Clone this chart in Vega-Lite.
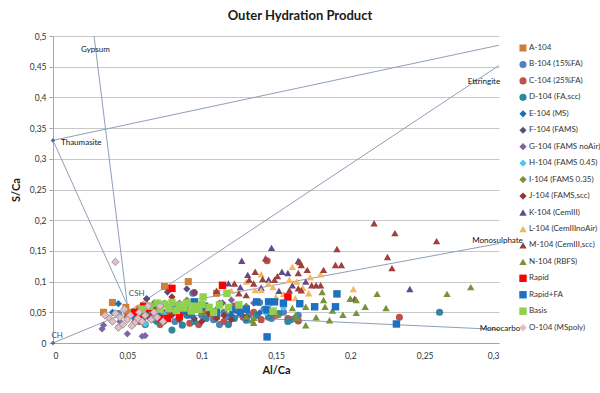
{
  "$schema": "https://vega.github.io/schema/vega-lite/v6.json",
  "width": 446,
  "height": 307,
  "autosize": {"type": "none"},
  "padding": {"left": 53, "top": 36, "right": 101, "bottom": 50},
  "background": "white",
  "title": {"text": "Outer Hydration Product", "anchor": "middle", "dx": 24, "offset": 9, "fontSize": 13, "font": "Lato", "fontWeight": "bold", "color": "#1a1a1a"},
  "config": {
    "view": {"stroke": null},
    "font": "Lato",
    "axis": {"labelFont": "Lato", "titleFont": "Lato", "labelColor": "#333333", "titleColor": "#1a1a1a", "labelFontSize": 8.5, "titleFontSize": 11, "titleFontWeight": "bold", "domainColor": "#A6A6A6", "gridColor": "#C8C8C8", "labelOverlap": false},
    "legend": {"labelFont": "Lato", "labelFontSize": 8, "labelColor": "#333333", "symbolSize": 30, "rowPadding": 8.45, "labelOffset": 2, "padding": 0, "symbolStrokeWidth": 0}
  },
  "encoding": {
    "x": {"field": "x", "type": "quantitative", "scale": {"domain": [0, 0.3], "nice": false}, "axis": {"values": [0, 0.05, 0.1, 0.15, 0.2, 0.25, 0.3], "tickCount": 20, "grid": false, "ticks": false, "title": "Al/Ca", "labelPadding": 8, "titlePadding": 5, "labelExpr": "replace(format(datum.value, '.2~f'), '.', ',')"}},
    "y": {"field": "y", "type": "quantitative", "scale": {"domain": [0, 0.5], "nice": false}, "axis": {"values": [0, 0.05, 0.1, 0.15, 0.2, 0.25, 0.3, 0.35, 0.4, 0.45, 0.5], "tickCount": 20, "grid": true, "ticks": true, "tickSize": 4, "tickColor": "#A6A6A6", "title": "S/Ca", "labelPadding": 3, "titlePadding": 8, "labelExpr": "replace(format(datum.value, '.2~f'), '.', ',')"}}
  },
  "datasets": {
    "lines": [
      {"l": "gyp", "x": 0.0276, "y": 0.5}, {"l": "gyp", "x": 0.05, "y": 0.062},
      {"l": "thcsh", "x": 0, "y": 0.33}, {"l": "thcsh", "x": 0.05, "y": 0.062},
      {"l": "thett", "x": 0, "y": 0.33}, {"l": "thett", "x": 0.3, "y": 0.485},
      {"l": "chcsh", "x": 0, "y": 0}, {"l": "chcsh", "x": 0.05, "y": 0.05},
      {"l": "ett", "x": 0.05, "y": 0.05}, {"l": "ett", "x": 0.3, "y": 0.452},
      {"l": "mono", "x": 0.05, "y": 0.05}, {"l": "mono", "x": 0.3, "y": 0.162},
      {"l": "carb", "x": 0.05, "y": 0.05}, {"l": "carb", "x": 0.3, "y": 0.022}
    ],
    "refpts": [{"x": 0, "y": 0.33}, {"x": 0, "y": 0}],
    "labels": [
      {"t": "Gypsum", "x": 0.0188, "y": 0.477, "g": "a"},
      {"t": "Thaumasite", "x": 0.0054, "y": 0.326, "g": "a"},
      {"t": "Ettringite", "x": 0.279, "y": 0.425, "g": "a"},
      {"t": "Monosulphate", "x": 0.282, "y": 0.166, "g": "a"},
      {"t": "Monocarbo", "x": 0.287, "y": 0.023, "g": "a"},
      {"t": "CSH", "x": 0.051, "y": 0.08, "g": "b"},
      {"t": "CH", "x": -0.001, "y": 0.011, "g": "b"}
    ],
    "pts": [
      {"s": "A-104", "x": 0.034, "y": 0.05}, {"s": "A-104", "x": 0.04, "y": 0.066}, {"s": "A-104", "x": 0.049, "y": 0.058}, {"s": "A-104", "x": 0.05, "y": 0.05}, {"s": "A-104", "x": 0.075, "y": 0.092}, {"s": "A-104", "x": 0.091, "y": 0.1}, {"s": "A-104", "x": 0.11, "y": 0.081}, {"s": "A-104", "x": 0.058, "y": 0.055}, {"s": "A-104", "x": 0.053, "y": 0.045},
      {"s": "B-104 (15%FA)", "x": 0.044, "y": 0.048}, {"s": "B-104 (15%FA)", "x": 0.06, "y": 0.045}, {"s": "B-104 (15%FA)", "x": 0.068, "y": 0.038}, {"s": "B-104 (15%FA)", "x": 0.075, "y": 0.045}, {"s": "B-104 (15%FA)", "x": 0.082, "y": 0.035}, {"s": "B-104 (15%FA)", "x": 0.088, "y": 0.05}, {"s": "B-104 (15%FA)", "x": 0.094, "y": 0.081}, {"s": "B-104 (15%FA)", "x": 0.1, "y": 0.045}, {"s": "B-104 (15%FA)", "x": 0.108, "y": 0.038}, {"s": "B-104 (15%FA)", "x": 0.115, "y": 0.05}, {"s": "B-104 (15%FA)", "x": 0.121, "y": 0.056}, {"s": "B-104 (15%FA)", "x": 0.126, "y": 0.054}, {"s": "B-104 (15%FA)", "x": 0.132, "y": 0.046}, {"s": "B-104 (15%FA)", "x": 0.139, "y": 0.066}, {"s": "B-104 (15%FA)", "x": 0.147, "y": 0.04}, {"s": "B-104 (15%FA)", "x": 0.155, "y": 0.05}, {"s": "B-104 (15%FA)", "x": 0.16, "y": 0.038}, {"s": "B-104 (15%FA)", "x": 0.165, "y": 0.045}, {"s": "B-104 (15%FA)", "x": 0.112, "y": 0.03}, {"s": "B-104 (15%FA)", "x": 0.07, "y": 0.055}, {"s": "B-104 (15%FA)", "x": 0.118, "y": 0.043}, {"s": "B-104 (15%FA)", "x": 0.142, "y": 0.055},
      {"s": "C-104 (25%FA)", "x": 0.05, "y": 0.042}, {"s": "C-104 (25%FA)", "x": 0.058, "y": 0.035}, {"s": "C-104 (25%FA)", "x": 0.065, "y": 0.048}, {"s": "C-104 (25%FA)", "x": 0.072, "y": 0.03}, {"s": "C-104 (25%FA)", "x": 0.078, "y": 0.05}, {"s": "C-104 (25%FA)", "x": 0.085, "y": 0.04}, {"s": "C-104 (25%FA)", "x": 0.092, "y": 0.032}, {"s": "C-104 (25%FA)", "x": 0.095, "y": 0.082}, {"s": "C-104 (25%FA)", "x": 0.102, "y": 0.052}, {"s": "C-104 (25%FA)", "x": 0.108, "y": 0.045}, {"s": "C-104 (25%FA)", "x": 0.115, "y": 0.035}, {"s": "C-104 (25%FA)", "x": 0.122, "y": 0.06}, {"s": "C-104 (25%FA)", "x": 0.128, "y": 0.042}, {"s": "C-104 (25%FA)", "x": 0.135, "y": 0.05}, {"s": "C-104 (25%FA)", "x": 0.144, "y": 0.134}, {"s": "C-104 (25%FA)", "x": 0.15, "y": 0.045}, {"s": "C-104 (25%FA)", "x": 0.158, "y": 0.04}, {"s": "C-104 (25%FA)", "x": 0.165, "y": 0.036}, {"s": "C-104 (25%FA)", "x": 0.233, "y": 0.042}, {"s": "C-104 (25%FA)", "x": 0.098, "y": 0.03}, {"s": "C-104 (25%FA)", "x": 0.14, "y": 0.038},
      {"s": "D-104 (FA,scc)", "x": 0.062, "y": 0.03}, {"s": "D-104 (FA,scc)", "x": 0.07, "y": 0.035}, {"s": "D-104 (FA,scc)", "x": 0.08, "y": 0.021}, {"s": "D-104 (FA,scc)", "x": 0.087, "y": 0.029}, {"s": "D-104 (FA,scc)", "x": 0.095, "y": 0.035}, {"s": "D-104 (FA,scc)", "x": 0.103, "y": 0.04}, {"s": "D-104 (FA,scc)", "x": 0.11, "y": 0.042}, {"s": "D-104 (FA,scc)", "x": 0.118, "y": 0.03}, {"s": "D-104 (FA,scc)", "x": 0.122, "y": 0.04}, {"s": "D-104 (FA,scc)", "x": 0.13, "y": 0.037}, {"s": "D-104 (FA,scc)", "x": 0.137, "y": 0.045}, {"s": "D-104 (FA,scc)", "x": 0.145, "y": 0.042}, {"s": "D-104 (FA,scc)", "x": 0.152, "y": 0.048}, {"s": "D-104 (FA,scc)", "x": 0.158, "y": 0.035}, {"s": "D-104 (FA,scc)", "x": 0.163, "y": 0.04}, {"s": "D-104 (FA,scc)", "x": 0.26, "y": 0.05}, {"s": "D-104 (FA,scc)", "x": 0.09, "y": 0.045}, {"s": "D-104 (FA,scc)", "x": 0.075, "y": 0.04},
      {"s": "E-104 (MS)", "x": 0.044, "y": 0.064}, {"s": "E-104 (MS)", "x": 0.04, "y": 0.05}, {"s": "E-104 (MS)", "x": 0.055, "y": 0.04}, {"s": "E-104 (MS)", "x": 0.063, "y": 0.072}, {"s": "E-104 (MS)", "x": 0.07, "y": 0.06}, {"s": "E-104 (MS)", "x": 0.085, "y": 0.055}, {"s": "E-104 (MS)", "x": 0.1, "y": 0.06}, {"s": "E-104 (MS)", "x": 0.12, "y": 0.045}, {"s": "E-104 (MS)", "x": 0.139, "y": 0.049}, {"s": "E-104 (MS)", "x": 0.13, "y": 0.04}, {"s": "E-104 (MS)", "x": 0.062, "y": 0.05},
      {"s": "F-104 (FAMS)", "x": 0.063, "y": 0.072}, {"s": "F-104 (FAMS)", "x": 0.077, "y": 0.083}, {"s": "F-104 (FAMS)", "x": 0.09, "y": 0.088}, {"s": "F-104 (FAMS)", "x": 0.095, "y": 0.082}, {"s": "F-104 (FAMS)", "x": 0.114, "y": 0.065}, {"s": "F-104 (FAMS)", "x": 0.08, "y": 0.06}, {"s": "F-104 (FAMS)", "x": 0.07, "y": 0.05}, {"s": "F-104 (FAMS)", "x": 0.105, "y": 0.055}, {"s": "F-104 (FAMS)", "x": 0.055, "y": 0.035}, {"s": "F-104 (FAMS)", "x": 0.065, "y": 0.04},
      {"s": "G-104 (FAMS noAir)", "x": 0.033, "y": 0.023}, {"s": "G-104 (FAMS noAir)", "x": 0.034, "y": 0.029}, {"s": "G-104 (FAMS noAir)", "x": 0.05, "y": 0.015}, {"s": "G-104 (FAMS noAir)", "x": 0.06, "y": 0.011}, {"s": "G-104 (FAMS noAir)", "x": 0.062, "y": 0.012}, {"s": "G-104 (FAMS noAir)", "x": 0.045, "y": 0.035}, {"s": "G-104 (FAMS noAir)", "x": 0.075, "y": 0.05}, {"s": "G-104 (FAMS noAir)", "x": 0.085, "y": 0.065}, {"s": "G-104 (FAMS noAir)", "x": 0.12, "y": 0.07}, {"s": "G-104 (FAMS noAir)", "x": 0.112, "y": 0.065}, {"s": "G-104 (FAMS noAir)", "x": 0.135, "y": 0.065},
      {"s": "H-104 (FAMS 0.45)", "x": 0.044, "y": 0.027}, {"s": "H-104 (FAMS 0.45)", "x": 0.062, "y": 0.031}, {"s": "H-104 (FAMS 0.45)", "x": 0.05, "y": 0.04}, {"s": "H-104 (FAMS 0.45)", "x": 0.075, "y": 0.045}, {"s": "H-104 (FAMS 0.45)", "x": 0.098, "y": 0.055}, {"s": "H-104 (FAMS 0.45)", "x": 0.125, "y": 0.05}, {"s": "H-104 (FAMS 0.45)", "x": 0.143, "y": 0.049}, {"s": "H-104 (FAMS 0.45)", "x": 0.155, "y": 0.058},
      {"s": "I-104 (FAMS 0.35)", "x": 0.06, "y": 0.05}, {"s": "I-104 (FAMS 0.35)", "x": 0.07, "y": 0.045}, {"s": "I-104 (FAMS 0.35)", "x": 0.08, "y": 0.055}, {"s": "I-104 (FAMS 0.35)", "x": 0.09, "y": 0.06}, {"s": "I-104 (FAMS 0.35)", "x": 0.1, "y": 0.05}, {"s": "I-104 (FAMS 0.35)", "x": 0.11, "y": 0.055}, {"s": "I-104 (FAMS 0.35)", "x": 0.12, "y": 0.058}, {"s": "I-104 (FAMS 0.35)", "x": 0.13, "y": 0.06}, {"s": "I-104 (FAMS 0.35)", "x": 0.075, "y": 0.065}, {"s": "I-104 (FAMS 0.35)", "x": 0.09, "y": 0.07},
      {"s": "J-104 (FAMS,scc)", "x": 0.055, "y": 0.05}, {"s": "J-104 (FAMS,scc)", "x": 0.06, "y": 0.045}, {"s": "J-104 (FAMS,scc)", "x": 0.065, "y": 0.04}, {"s": "J-104 (FAMS,scc)", "x": 0.07, "y": 0.048}, {"s": "J-104 (FAMS,scc)", "x": 0.075, "y": 0.035}, {"s": "J-104 (FAMS,scc)", "x": 0.08, "y": 0.045}, {"s": "J-104 (FAMS,scc)", "x": 0.085, "y": 0.038}, {"s": "J-104 (FAMS,scc)", "x": 0.09, "y": 0.05}, {"s": "J-104 (FAMS,scc)", "x": 0.095, "y": 0.04}, {"s": "J-104 (FAMS,scc)", "x": 0.1, "y": 0.035}, {"s": "J-104 (FAMS,scc)", "x": 0.105, "y": 0.048}, {"s": "J-104 (FAMS,scc)", "x": 0.11, "y": 0.04}, {"s": "J-104 (FAMS,scc)", "x": 0.115, "y": 0.045}, {"s": "J-104 (FAMS,scc)", "x": 0.12, "y": 0.038}, {"s": "J-104 (FAMS,scc)", "x": 0.125, "y": 0.05}, {"s": "J-104 (FAMS,scc)", "x": 0.13, "y": 0.043}, {"s": "J-104 (FAMS,scc)", "x": 0.08, "y": 0.075}, {"s": "J-104 (FAMS,scc)", "x": 0.068, "y": 0.065},
      {"s": "K-104 (CemIII)", "x": 0.147, "y": 0.155}, {"s": "K-104 (CemIII)", "x": 0.165, "y": 0.134}, {"s": "K-104 (CemIII)", "x": 0.127, "y": 0.134}, {"s": "K-104 (CemIII)", "x": 0.154, "y": 0.116}, {"s": "K-104 (CemIII)", "x": 0.158, "y": 0.114}, {"s": "K-104 (CemIII)", "x": 0.145, "y": 0.103}, {"s": "K-104 (CemIII)", "x": 0.161, "y": 0.094}, {"s": "K-104 (CemIII)", "x": 0.131, "y": 0.111}, {"s": "K-104 (CemIII)", "x": 0.118, "y": 0.097}, {"s": "K-104 (CemIII)", "x": 0.126, "y": 0.091}, {"s": "K-104 (CemIII)", "x": 0.24, "y": 0.088}, {"s": "K-104 (CemIII)", "x": 0.17, "y": 0.1}, {"s": "K-104 (CemIII)", "x": 0.14, "y": 0.09}, {"s": "K-104 (CemIII)", "x": 0.152, "y": 0.085}, {"s": "K-104 (CemIII)", "x": 0.1, "y": 0.065},
      {"s": "L-104 (CemIIInoAir)", "x": 0.14, "y": 0.112}, {"s": "L-104 (CemIIInoAir)", "x": 0.161, "y": 0.124}, {"s": "L-104 (CemIIInoAir)", "x": 0.18, "y": 0.112}, {"s": "L-104 (CemIIInoAir)", "x": 0.173, "y": 0.107}, {"s": "L-104 (CemIIInoAir)", "x": 0.159, "y": 0.103}, {"s": "L-104 (CemIIInoAir)", "x": 0.164, "y": 0.1}, {"s": "L-104 (CemIIInoAir)", "x": 0.136, "y": 0.086}, {"s": "L-104 (CemIIInoAir)", "x": 0.14, "y": 0.086}, {"s": "L-104 (CemIIInoAir)", "x": 0.148, "y": 0.091}, {"s": "L-104 (CemIIInoAir)", "x": 0.172, "y": 0.081}, {"s": "L-104 (CemIIInoAir)", "x": 0.163, "y": 0.073}, {"s": "L-104 (CemIIInoAir)", "x": 0.202, "y": 0.088}, {"s": "L-104 (CemIIInoAir)", "x": 0.15, "y": 0.075}, {"s": "L-104 (CemIIInoAir)", "x": 0.145, "y": 0.097}, {"s": "L-104 (CemIIInoAir)", "x": 0.155, "y": 0.08}, {"s": "L-104 (CemIIInoAir)", "x": 0.13, "y": 0.1}, {"s": "L-104 (CemIIInoAir)", "x": 0.12, "y": 0.085}, {"s": "L-104 (CemIIInoAir)", "x": 0.168, "y": 0.09},
      {"s": "M-104 (CemIII,scc)", "x": 0.216, "y": 0.195}, {"s": "M-104 (CemIII,scc)", "x": 0.23, "y": 0.179}, {"s": "M-104 (CemIII,scc)", "x": 0.258, "y": 0.166}, {"s": "M-104 (CemIII,scc)", "x": 0.225, "y": 0.14}, {"s": "M-104 (CemIII,scc)", "x": 0.228, "y": 0.122}, {"s": "M-104 (CemIII,scc)", "x": 0.191, "y": 0.153}, {"s": "M-104 (CemIII,scc)", "x": 0.19, "y": 0.127}, {"s": "M-104 (CemIII,scc)", "x": 0.194, "y": 0.127}, {"s": "M-104 (CemIII,scc)", "x": 0.143, "y": 0.138}, {"s": "M-104 (CemIII,scc)", "x": 0.166, "y": 0.132}, {"s": "M-104 (CemIII,scc)", "x": 0.167, "y": 0.127}, {"s": "M-104 (CemIII,scc)", "x": 0.171, "y": 0.119}, {"s": "M-104 (CemIII,scc)", "x": 0.165, "y": 0.114}, {"s": "M-104 (CemIII,scc)", "x": 0.182, "y": 0.119}, {"s": "M-104 (CemIII,scc)", "x": 0.136, "y": 0.116}, {"s": "M-104 (CemIII,scc)", "x": 0.151, "y": 0.109}, {"s": "M-104 (CemIII,scc)", "x": 0.149, "y": 0.103}, {"s": "M-104 (CemIII,scc)", "x": 0.174, "y": 0.094}, {"s": "M-104 (CemIII,scc)", "x": 0.177, "y": 0.094}, {"s": "M-104 (CemIII,scc)", "x": 0.18, "y": 0.094}, {"s": "M-104 (CemIII,scc)", "x": 0.165, "y": 0.089}, {"s": "M-104 (CemIII,scc)", "x": 0.167, "y": 0.086}, {"s": "M-104 (CemIII,scc)", "x": 0.2, "y": 0.072}, {"s": "M-104 (CemIII,scc)", "x": 0.203, "y": 0.072}, {"s": "M-104 (CemIII,scc)", "x": 0.159, "y": 0.086}, {"s": "M-104 (CemIII,scc)", "x": 0.122, "y": 0.097}, {"s": "M-104 (CemIII,scc)", "x": 0.132, "y": 0.103}, {"s": "M-104 (CemIII,scc)", "x": 0.135, "y": 0.097}, {"s": "M-104 (CemIII,scc)", "x": 0.141, "y": 0.104}, {"s": "M-104 (CemIII,scc)", "x": 0.125, "y": 0.081}, {"s": "M-104 (CemIII,scc)", "x": 0.13, "y": 0.078}, {"s": "M-104 (CemIII,scc)", "x": 0.11, "y": 0.085},
      {"s": "N-104 (RBFS)", "x": 0.281, "y": 0.091}, {"s": "N-104 (RBFS)", "x": 0.265, "y": 0.08}, {"s": "N-104 (RBFS)", "x": 0.224, "y": 0.057}, {"s": "N-104 (RBFS)", "x": 0.181, "y": 0.083}, {"s": "N-104 (RBFS)", "x": 0.182, "y": 0.07}, {"s": "N-104 (RBFS)", "x": 0.183, "y": 0.059}, {"s": "N-104 (RBFS)", "x": 0.188, "y": 0.053}, {"s": "N-104 (RBFS)", "x": 0.2, "y": 0.072}, {"s": "N-104 (RBFS)", "x": 0.204, "y": 0.07}, {"s": "N-104 (RBFS)", "x": 0.218, "y": 0.08}, {"s": "N-104 (RBFS)", "x": 0.21, "y": 0.059}, {"s": "N-104 (RBFS)", "x": 0.204, "y": 0.049}, {"s": "N-104 (RBFS)", "x": 0.195, "y": 0.046}, {"s": "N-104 (RBFS)", "x": 0.186, "y": 0.037}, {"s": "N-104 (RBFS)", "x": 0.177, "y": 0.042}, {"s": "N-104 (RBFS)", "x": 0.17, "y": 0.029}, {"s": "N-104 (RBFS)", "x": 0.17, "y": 0.059}, {"s": "N-104 (RBFS)", "x": 0.164, "y": 0.041}, {"s": "N-104 (RBFS)", "x": 0.161, "y": 0.057}, {"s": "N-104 (RBFS)", "x": 0.151, "y": 0.046}, {"s": "N-104 (RBFS)", "x": 0.135, "y": 0.041}, {"s": "N-104 (RBFS)", "x": 0.135, "y": 0.033}, {"s": "N-104 (RBFS)", "x": 0.13, "y": 0.043}, {"s": "N-104 (RBFS)", "x": 0.134, "y": 0.037}, {"s": "N-104 (RBFS)", "x": 0.163, "y": 0.045},
      {"s": "Rapid", "x": 0.061, "y": 0.06}, {"s": "Rapid", "x": 0.065, "y": 0.057}, {"s": "Rapid", "x": 0.068, "y": 0.052}, {"s": "Rapid", "x": 0.08, "y": 0.089}, {"s": "Rapid", "x": 0.077, "y": 0.04}, {"s": "Rapid", "x": 0.072, "y": 0.04}, {"s": "Rapid", "x": 0.114, "y": 0.094}, {"s": "Rapid", "x": 0.158, "y": 0.075}, {"s": "Rapid", "x": 0.055, "y": 0.05}, {"s": "Rapid", "x": 0.085, "y": 0.045}, {"s": "Rapid", "x": 0.06, "y": 0.042},
      {"s": "Rapid+FA", "x": 0.144, "y": 0.01}, {"s": "Rapid+FA", "x": 0.191, "y": 0.08}, {"s": "Rapid+FA", "x": 0.19, "y": 0.059}, {"s": "Rapid+FA", "x": 0.231, "y": 0.031}, {"s": "Rapid+FA", "x": 0.176, "y": 0.059}, {"s": "Rapid+FA", "x": 0.166, "y": 0.064}, {"s": "Rapid+FA", "x": 0.155, "y": 0.065}, {"s": "Rapid+FA", "x": 0.149, "y": 0.067}, {"s": "Rapid+FA", "x": 0.145, "y": 0.067}, {"s": "Rapid+FA", "x": 0.144, "y": 0.054}, {"s": "Rapid+FA", "x": 0.137, "y": 0.067}, {"s": "Rapid+FA", "x": 0.095, "y": 0.067}, {"s": "Rapid+FA", "x": 0.089, "y": 0.054}, {"s": "Rapid+FA", "x": 0.093, "y": 0.046}, {"s": "Rapid+FA", "x": 0.121, "y": 0.054}, {"s": "Rapid+FA", "x": 0.126, "y": 0.049}, {"s": "Rapid+FA", "x": 0.082, "y": 0.059}, {"s": "Rapid+FA", "x": 0.11, "y": 0.05}, {"s": "Rapid+FA", "x": 0.07, "y": 0.05}, {"s": "Rapid+FA", "x": 0.102, "y": 0.06}, {"s": "Rapid+FA", "x": 0.13, "y": 0.055},
      {"s": "Basis", "x": 0.101, "y": 0.075}, {"s": "Basis", "x": 0.117, "y": 0.081}, {"s": "Basis", "x": 0.148, "y": 0.052}, {"s": "Basis", "x": 0.07, "y": 0.065}, {"s": "Basis", "x": 0.075, "y": 0.063}, {"s": "Basis", "x": 0.08, "y": 0.066}, {"s": "Basis", "x": 0.085, "y": 0.062}, {"s": "Basis", "x": 0.09, "y": 0.065}, {"s": "Basis", "x": 0.095, "y": 0.06}, {"s": "Basis", "x": 0.1, "y": 0.063}, {"s": "Basis", "x": 0.105, "y": 0.058}, {"s": "Basis", "x": 0.072, "y": 0.055}, {"s": "Basis", "x": 0.078, "y": 0.056}, {"s": "Basis", "x": 0.083, "y": 0.053}, {"s": "Basis", "x": 0.088, "y": 0.057}, {"s": "Basis", "x": 0.093, "y": 0.052}, {"s": "Basis", "x": 0.098, "y": 0.055}, {"s": "Basis", "x": 0.108, "y": 0.05}, {"s": "Basis", "x": 0.112, "y": 0.062}, {"s": "Basis", "x": 0.065, "y": 0.06}, {"s": "Basis", "x": 0.06, "y": 0.055}, {"s": "Basis", "x": 0.118, "y": 0.058}, {"s": "Basis", "x": 0.125, "y": 0.062},
      {"s": "O-104 (MSpoly)", "x": 0.042, "y": 0.132}, {"s": "O-104 (MSpoly)", "x": 0.035, "y": 0.045}, {"s": "O-104 (MSpoly)", "x": 0.038, "y": 0.04}, {"s": "O-104 (MSpoly)", "x": 0.04, "y": 0.035}, {"s": "O-104 (MSpoly)", "x": 0.042, "y": 0.048}, {"s": "O-104 (MSpoly)", "x": 0.045, "y": 0.042}, {"s": "O-104 (MSpoly)", "x": 0.047, "y": 0.03}, {"s": "O-104 (MSpoly)", "x": 0.05, "y": 0.038}, {"s": "O-104 (MSpoly)", "x": 0.052, "y": 0.045}, {"s": "O-104 (MSpoly)", "x": 0.055, "y": 0.033}, {"s": "O-104 (MSpoly)", "x": 0.057, "y": 0.04}, {"s": "O-104 (MSpoly)", "x": 0.058, "y": 0.05}, {"s": "O-104 (MSpoly)", "x": 0.06, "y": 0.035}, {"s": "O-104 (MSpoly)", "x": 0.062, "y": 0.045}, {"s": "O-104 (MSpoly)", "x": 0.064, "y": 0.06}, {"s": "O-104 (MSpoly)", "x": 0.066, "y": 0.038}, {"s": "O-104 (MSpoly)", "x": 0.068, "y": 0.05}, {"s": "O-104 (MSpoly)", "x": 0.07, "y": 0.042}, {"s": "O-104 (MSpoly)", "x": 0.072, "y": 0.06}, {"s": "O-104 (MSpoly)", "x": 0.074, "y": 0.035}, {"s": "O-104 (MSpoly)", "x": 0.048, "y": 0.055}, {"s": "O-104 (MSpoly)", "x": 0.053, "y": 0.028}, {"s": "O-104 (MSpoly)", "x": 0.044, "y": 0.025}
    ]
  },
  "layer": [
    {
      "data": {"name": "lines"},
      "mark": {"type": "line", "color": "#8EA0B8", "strokeWidth": 1, "clip": true},
      "encoding": {
        "detail": {"field": "l", "type": "nominal"}
      }
    },
    {
      "data": {"name": "refpts"},
      "mark": {"type": "point", "shape": "diamond", "filled": true, "size": 22, "color": "#4F6F9A", "opacity": 1},
      "encoding": {}
    },
    {
      "data": {"name": "pts"},
      "mark": {"type": "point", "filled": true, "opacity": 1, "stroke": "#9A9A9A"},
      "encoding": {
        "color": {"field": "s", "type": "nominal",
          "legend": {"title": null, "orient": "none", "legendX": 466, "legendY": 8},
          "scale": {"domain": ["A-104", "B-104 (15%FA)", "C-104 (25%FA)", "D-104 (FA,scc)", "E-104 (MS)", "F-104 (FAMS)", "G-104 (FAMS noAir)", "H-104 (FAMS 0.45)", "I-104 (FAMS 0.35)", "J-104 (FAMS,scc)", "K-104 (CemIII)", "L-104 (CemIIInoAir)", "M-104 (CemIII,scc)", "N-104 (RBFS)", "Rapid", "Rapid+FA", "Basis", "O-104 (MSpoly)"],
            "range": ["#CD7F3C", "#4F81BD", "#C0504D", "#31859C", "#1F6EB5", "#604A7B", "#8064A2", "#4BC9F2", "#77933C", "#943634", "#5F4B8B", "#F5B660", "#A0403D", "#77933C", "#FF0000", "#1F70C1", "#92D050", "#E6BCC6"]}},
        "shape": {"field": "s", "type": "nominal",
          "legend": {"title": null, "orient": "none", "legendX": 466, "legendY": 8},
          "scale": {"domain": ["A-104", "B-104 (15%FA)", "C-104 (25%FA)", "D-104 (FA,scc)", "E-104 (MS)", "F-104 (FAMS)", "G-104 (FAMS noAir)", "H-104 (FAMS 0.45)", "I-104 (FAMS 0.35)", "J-104 (FAMS,scc)", "K-104 (CemIII)", "L-104 (CemIIInoAir)", "M-104 (CemIII,scc)", "N-104 (RBFS)", "Rapid", "Rapid+FA", "Basis", "O-104 (MSpoly)"],
            "range": ["square", "circle", "circle", "circle", "diamond", "diamond", "diamond", "diamond", "diamond", "diamond", "triangle-up", "triangle-up", "triangle-up", "triangle-up", "square", "square", "square", "diamond"]}},
        "size": {"field": "s", "type": "nominal", "legend": null,
          "scale": {"domain": ["A-104", "B-104 (15%FA)", "C-104 (25%FA)", "D-104 (FA,scc)", "E-104 (MS)", "F-104 (FAMS)", "G-104 (FAMS noAir)", "H-104 (FAMS 0.45)", "I-104 (FAMS 0.35)", "J-104 (FAMS,scc)", "K-104 (CemIII)", "L-104 (CemIIInoAir)", "M-104 (CemIII,scc)", "N-104 (RBFS)", "Rapid", "Rapid+FA", "Basis", "O-104 (MSpoly)"],
            "range": [50, 56, 56, 56, 24, 45, 45, 34, 45, 45, 55, 55, 55, 55, 50, 50, 50, 50]}},
        "strokeWidth": {"condition": {"test": "datum.s === 'O-104 (MSpoly)'", "value": 1}, "value": 0}
      }
    },
    {
      "data": {"name": "labels"},
      "mark": {"type": "text", "align": "left", "baseline": "middle", "fontSize": 8, "font": "Lato"},
      "encoding": {
        "text": {"field": "t", "type": "nominal"},
        "color": {"condition": {"test": "datum.g === 'b'", "value": "#555555"}, "value": "#111111"}
      }
    }
  ]
}
